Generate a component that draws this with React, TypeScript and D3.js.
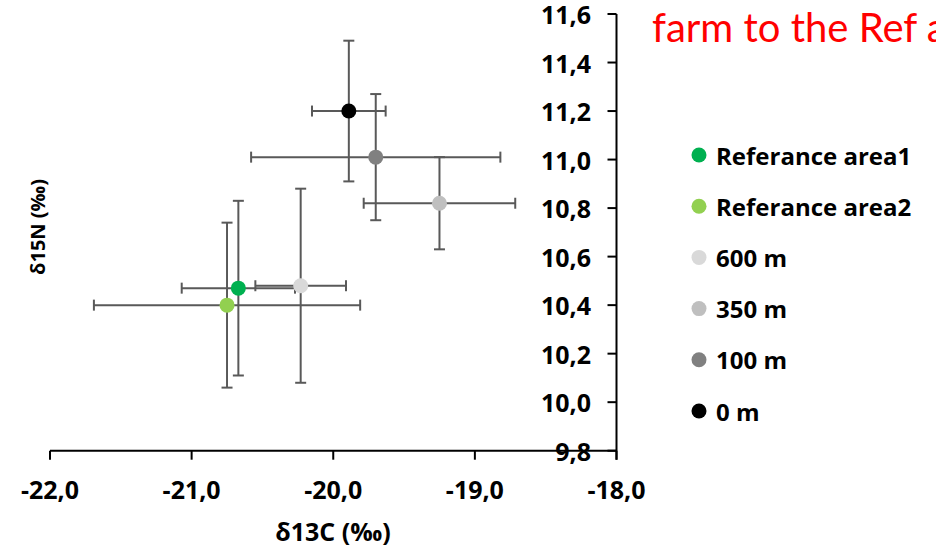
import React from "react";
import * as d3 from "d3";

const seriesNames = ["Referance area1", "Referance area2", "600 m", "350 m", "100 m", "0 m"];
const c13Values = [-20.67, -20.75, -20.23, -19.25, -19.70, -19.89];
const n15Values = [10.47, 10.40, 10.48, 10.82, 11.01, 11.20];
const c13Errors = [0.40, 0.94, 0.32, 0.535, 0.88, 0.26];
const n15Errors = [0.36, 0.34, 0.40, 0.19, 0.26, 0.29];
const seriesColors = ["#00B050", "#92D050", "#D9D9D9", "#BFBFBF", "#808080", "#000000"];

const xTicks = [-22, -21, -20, -19, -18];
const yTicks = [9.8, 10.0, 10.2, 10.4, 10.6, 10.8, 11.0, 11.2, 11.4, 11.6];

const xTitle = "δ13C (‰)";
const yTitle = "δ15N (‰)";
const titleText = "farm to the Ref area";

const W = 936;
const H = 547;
const boldFont = "'Open Sans', sans-serif";

export default function App() {
  const x = d3.scaleLinear().domain([-22, -18]).range([50, 616.5]);
  const y = d3.scaleLinear().domain([9.8, 11.6]).range([450.7, 14]);
  const fmt = (v: number) => d3.format(".1f")(v).replace(".", ",").replace("−", "-");
  const cap = 5.5;
  const errColor = "#595959";

  return (
    <svg width={W} height={H} style={{ position: "absolute", left: 0, top: 0, background: "#fff" }}>
      {/* title fragment */}
      <text x={652} y={42} fill="#FF0000" fontFamily="Lato, sans-serif" fontSize={40}>
        {titleText}
      </text>

      {/* x axis */}
      <line x1={x(-22)} x2={x(-18)} y1={y(9.8)} y2={y(9.8)} stroke="#000" strokeWidth={2} />
      {xTicks.map((t) => (
        <g key={"xt" + t}>
          <line x1={x(t)} x2={x(t)} y1={y(9.8)} y2={y(9.8) + 9} stroke="#000" strokeWidth={2} />
          <text
            x={x(t)}
            y={489}
            textAnchor="middle"
            dominantBaseline="central"
            fontFamily={boldFont}
            fontWeight="bold"
            fontSize={25}
            fill="#000"
          >
            {fmt(t)}
          </text>
        </g>
      ))}

      {/* y axis */}
      <line x1={x(-18)} x2={x(-18)} y1={y(11.6)} y2={y(9.8) + 9} stroke="#000" strokeWidth={2} />
      {yTicks.map((t) => (
        <g key={"yt" + t}>
          <line x1={x(-18) - 9} x2={x(-18)} y1={y(t)} y2={y(t)} stroke="#000" strokeWidth={2} />
          <text
            x={591}
            y={y(t)}
            textAnchor="end"
            dominantBaseline="central"
            fontFamily={boldFont}
            fontWeight="bold"
            fontSize={25}
            fill="#000"
          >
            {fmt(t)}
          </text>
        </g>
      ))}

      {/* axis titles */}
      <text
        x={333}
        y={531}
        textAnchor="middle"
        dominantBaseline="central"
        fontFamily={boldFont}
        fontWeight="bold"
        fontSize={25}
        fill="#000"
      >
        {xTitle}
      </text>
      <text
        transform={`translate(37,227) rotate(-90)`}
        textAnchor="middle"
        dominantBaseline="central"
        fontFamily={boldFont}
        fontWeight="bold"
        fontSize={20}
        fill="#000"
      >
        {yTitle}
      </text>

      {/* error bars and points */}
      {seriesNames.map((name, i) => {
        const cx = x(c13Values[i]);
        const cy = y(n15Values[i]);
        const xl = x(c13Values[i] - c13Errors[i]);
        const xr = x(c13Values[i] + c13Errors[i]);
        const yt = y(n15Values[i] + n15Errors[i]);
        const yb = y(n15Values[i] - n15Errors[i]);
        return (
          <g key={name}>
            <g stroke={errColor} strokeWidth={2}>
              <line x1={xl} x2={xr} y1={cy} y2={cy} />
              <line x1={xl} x2={xl} y1={cy - cap} y2={cy + cap} />
              <line x1={xr} x2={xr} y1={cy - cap} y2={cy + cap} />
              <line x1={cx} x2={cx} y1={yt} y2={yb} />
              <line x1={cx - cap} x2={cx + cap} y1={yt} y2={yt} />
              <line x1={cx - cap} x2={cx + cap} y1={yb} y2={yb} />
            </g>
            <circle cx={cx} cy={cy} r={7.5} fill={seriesColors[i]} />
          </g>
        );
      })}

      {/* legend */}
      {seriesNames.map((name, i) => {
        const ly = 155 + i * 51.2;
        return (
          <g key={"lg" + name}>
            <circle cx={699} cy={ly} r={7.5} fill={seriesColors[i]} />
            <text
              x={716}
              y={ly}
              dominantBaseline="central"
              fontFamily={boldFont}
              fontWeight="bold"
              fontSize={24}
              fill="#000"
            >
              {name}
            </text>
          </g>
        );
      })}
    </svg>
  );
}
